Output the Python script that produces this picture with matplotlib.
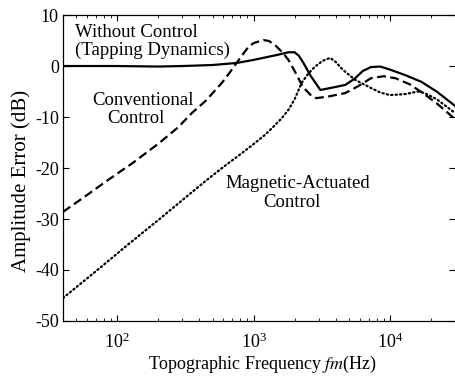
import numpy as np
import matplotlib
matplotlib.use("Agg")
import matplotlib.pyplot as plt
from matplotlib.ticker import LogLocator, NullFormatter, FixedLocator

# ── Data (frequency in Hz, error in dB) ─────────────────────────────────────
f_without = [40, 100, 200, 300, 500, 750, 1000, 1500, 1800, 2000, 2150, 2320,
             2600, 3090, 4000, 4700, 5500, 6300, 7250, 8500, 10000, 13000,
             17000, 22000, 30000]
db_without = [0.0, 0.0, -0.1, 0.0, 0.2, 0.6, 1.2, 2.2, 2.7, 2.7, 2.0, 0.6,
              -1.8, -4.7, -4.1, -3.7, -2.5, -1.0, -0.2, -0.1, -0.7, -1.8,
              -3.1, -5.0, -7.8]

f_conv = [40, 60, 85, 130, 203, 280, 353, 446, 585, 680, 750, 850, 920, 1000,
          1180, 1300, 1450, 1650, 1800, 2000, 2300, 2600, 2880, 3500, 4700,
          5800, 7250, 9000, 11000, 14000, 17000, 22000, 30000]
db_conv = [-28.6, -25.3, -22.4, -19.0, -15.1, -12.0, -9.2, -6.8, -3.3, -1.0,
           0.6, 2.6, 3.8, 4.5, 5.1, 4.9, 4.0, 2.5, 1.2, -1.0, -4.1, -5.6, -6.3,
           -6.0, -5.3, -4.0, -2.4, -2.0, -2.4, -3.6, -5.1, -7.3, -10.4]

f_mag = [40, 70, 120, 200, 300, 446, 600, 800, 1000, 1200, 1350, 1600, 1800,
         2000, 2250, 2500, 2800, 3200, 3640, 4000, 4500, 5550, 7250, 8500,
         10000, 13000, 16000, 18000, 22000, 30000]
db_mag = [-45.5, -40.2, -35.0, -30.2, -26.3, -22.5, -19.8, -17.3, -15.3,
          -13.6, -12.3, -10.3, -8.6, -6.5, -3.3, -1.6, -0.2, 1.0, 1.6, 0.8,
          -0.7, -2.7, -4.3, -5.2, -5.7, -5.5, -5.0, -5.3, -6.5, -9.2]

y_ticks = [10, 0, -10, -20, -30, -40, -50]

plt.rcParams["font.family"] = ["Liberation Serif", "DejaVu Serif"]
plt.rcParams["mathtext.fontset"] = "stix"
plt.rcParams["axes.unicode_minus"] = False

fig = plt.figure(figsize=(4.55, 3.76), dpi=100)
ax = fig.add_axes([0.1385, 0.1463, 0.8615, 0.8137])

ax.plot(f_without, db_without, color="black", linewidth=1.6)
ax.plot(f_conv, db_conv, color="black", linewidth=1.6, linestyle=(0, (4, 2)))
ax.plot(f_mag, db_mag, color="black", linewidth=1.6, linestyle=(0, (0.6, 1.4)),
        dash_capstyle="round")

ax.set_xscale("log")
ax.set_xlim(40, 30000)
ax.set_ylim(-50, 10)
ax.yaxis.set_major_locator(FixedLocator(y_ticks))
ax.xaxis.set_major_locator(LogLocator(base=10))
ax.xaxis.set_minor_locator(LogLocator(base=10, subs=np.arange(2, 10)))
ax.xaxis.set_minor_formatter(NullFormatter())

ax.tick_params(which="both", direction="in", top=True, right=True, labelsize=13)
ax.tick_params(axis="y", pad=3)
ax.tick_params(axis="x", pad=8)
ax.tick_params(which="major", length=4, width=0.8)
ax.tick_params(which="minor", length=2, width=0.6)
ax.spines["right"].set_visible(False)
for s in ["left", "bottom", "top"]:
    ax.spines[s].set_linewidth(0.9)

ax.set_xlabel("Topographic Frequency $\\mathit{fm}$(Hz)", fontsize=13)
ax.set_ylabel("Amplitude Error (dB)", fontsize=15)
ax.xaxis.set_label_coords(0.509, -0.108)
ax.yaxis.set_label_coords(-0.082, 0.4575)

# ── curve labels ──
ax.text(0.0306, 0.928, "Without Control", transform=ax.transAxes,
        fontsize=13.5, ha="left", va="baseline")
ax.text(0.0306, 0.869, "(Tapping Dynamics)", transform=ax.transAxes,
        fontsize=13.5, ha="left", va="baseline")
ax.text(0.203, 0.706, "Conventional", transform=ax.transAxes,
        fontsize=13.5, ha="center", va="baseline")
ax.text(0.186, 0.647, "Control", transform=ax.transAxes,
        fontsize=13.5, ha="center", va="baseline")
ax.text(0.598, 0.435, "Magnetic-Actuated", transform=ax.transAxes,
        fontsize=13.5, ha="center", va="baseline")
ax.text(0.583, 0.3725, "Control", transform=ax.transAxes,
        fontsize=13.5, ha="center", va="baseline")

fig.savefig("out.png", dpi=100)
